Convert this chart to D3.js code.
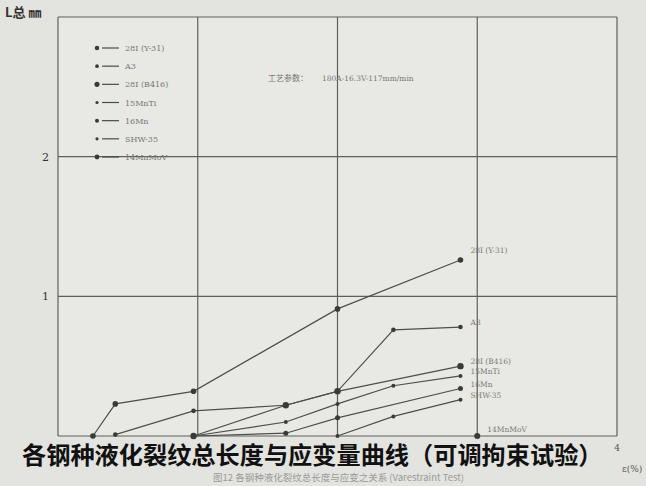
<!DOCTYPE html>
<html>
<head>
<meta charset="utf-8">
<script src="https://cdn.jsdelivr.net/npm/d3@7.9.0/dist/d3.min.js"></script>
<style>
  body { margin: 0; background: #e3e3df; }
  svg { display: block; }
</style>
</head>
<body>
<svg id="chart" width="646" height="486"></svg>
<script>
// strain (%) and total crack length (mm)
const seriesNames = ['28Ⅰ (Y-31)', 'A3', '28Ⅰ (B416)', '15MnTi', '16Mn', 'SHW-35', '14MnMoV'];
const endLabels = ['28Ⅰ (Y-31)', 'A3', '28Ⅰ (B416)', '15MnTi', '16Mn', 'SHW-35', '14MnMoV'];
const strainY31 = [0.25, 0.41, 0.97, 2.0, 2.88];
const lenY31 = [0, 0.23, 0.32, 0.91, 1.26];
const strainA3 = [0.41, 0.97, 1.63, 2.0, 2.4, 2.88];
const lenA3 = [0.01, 0.18, 0.22, 0.32, 0.76, 0.78];
const strainB416 = [0.97, 1.63, 2.0, 2.88];
const lenB416 = [0, 0.22, 0.32, 0.5];
const strainMnTi = [0.97, 1.63, 2.0, 2.4, 2.88];
const lenMnTi = [0, 0.1, 0.23, 0.36, 0.43];
const strain16Mn = [0.97, 1.63, 2.0, 2.88];
const len16Mn = [0, 0.02, 0.13, 0.34];
const strainSHW = [2.0, 2.4, 2.88];
const lenSHW = [0, 0.14, 0.26];
const strainMoV = [3.0];
const lenMoV = [0];
const xTicks = [0, 1, 2, 3, 4];
const yTicks = [0, 1, 2, 3];

const strains = [strainY31, strainA3, strainB416, strainMnTi, strain16Mn, strainSHW, strainMoV];
const lengths = [lenY31, lenA3, lenB416, lenMnTi, len16Mn, lenSHW, lenMoV];
const markerSize = [2.8, 2.3, 3.2, 2, 2.5, 2, 3];

const svg = d3.select('#chart');
const x = d3.scaleLinear().domain([0, 4]).range([58, 617]);
const y = d3.scaleLinear().domain([0, 3]).range([436, 17]);

// paper
svg.append('rect').attr('width', 646).attr('height', 486).attr('fill', '#e3e3df');
svg.append('rect').attr('x', x(0)).attr('y', y(3))
  .attr('width', x(4) - x(0)).attr('height', y(0) - y(3)).attr('fill', '#e8e8e4');

// grid
svg.append('g').selectAll('line').data(xTicks).join('line')
  .attr('x1', d => x(d)).attr('x2', d => x(d))
  .attr('y1', y(3)).attr('y2', y(0))
  .attr('stroke', '#5e5e5c').attr('stroke-width', 1.2);
svg.append('g').selectAll('line').data(yTicks).join('line')
  .attr('x1', x(0)).attr('x2', x(4))
  .attr('y1', d => y(d)).attr('y2', d => y(d))
  .attr('stroke', '#5e5e5c').attr('stroke-width', 1.2);

// tick labels
svg.append('g').selectAll('text').data([1, 2]).join('text')
  .attr('x', x(0) - 9).attr('y', d => y(d) + 4)
  .attr('text-anchor', 'end').attr('font-family', 'DejaVu Serif').attr('font-size', 11)
  .attr('fill', '#333').text(d => d);
svg.append('text').attr('x', x(4)).attr('y', 451).attr('text-anchor', 'middle')
  .attr('font-family', 'DejaVu Serif').attr('font-size', 9).attr('fill', '#555').text('4');
svg.append('text').attr('x', 622).attr('y', 472)
  .attr('font-family', 'DejaVu Serif').attr('font-size', 9).attr('fill', '#555').text('ε(%)');
svg.append('text').attr('x', 5).attr('y', 17)
  .attr('font-family', 'Noto Sans CJK SC').attr('font-size', 13).attr('font-weight', 'bold')
  .attr('fill', '#333').text('L总 ㎜');

// series
const line = d3.line().x(d => x(d[0])).y(d => y(d[1]));
strains.forEach((s, i) => {
  const pts = s.map((v, j) => [v, lengths[i][j]]);
  svg.append('path').attr('d', line(pts)).attr('fill', 'none')
    .attr('stroke', '#4e4e4c').attr('stroke-width', 1.2);
  svg.append('g').selectAll('circle').data(pts).join('circle')
    .attr('cx', d => x(d[0])).attr('cy', d => y(d[1])).attr('r', markerSize[i])
    .attr('fill', '#3a3a38');
  const last = pts[pts.length - 1];
  svg.append('text').attr('x', x(last[0]) + 10).attr('y', y(last[1]) - (i === 0 ? 7 : i === 6 ? 4 : 2))
    .attr('font-family', 'DejaVu Serif').attr('font-size', 7.5).attr('fill', '#7a7a78')
    .text(endLabels[i]);
});

// legend
const legend = svg.append('g');
const rowY = d3.scaleLinear().domain([0, 6]).range([48, 157]);
seriesNames.forEach((name, i) => {
  const ly = rowY(i);
  legend.append('circle').attr('cx', 97).attr('cy', ly).attr('r', markerSize[i] * 0.8).attr('fill', '#3a3a38');
  legend.append('line').attr('x1', 102).attr('x2', 119).attr('y1', ly).attr('y2', ly)
    .attr('stroke', '#4a4a48').attr('stroke-width', 1.2);
  legend.append('text').attr('x', 125).attr('y', ly + 3)
    .attr('font-family', 'DejaVu Serif').attr('font-size', 8).attr('fill', '#777')
    .text(name);
});

// process note
svg.append('text').attr('x', 268).attr('y', 81)
  .attr('font-family', 'Noto Sans CJK SC').attr('font-size', 8).attr('fill', '#777')
  .text('工艺参数：');
svg.append('text').attr('x', 322).attr('y', 81)
  .attr('font-family', 'DejaVu Serif').attr('font-size', 7.5).attr('fill', '#777')
  .text('180A-16.3V-117mm/min');

// captions
svg.append('text').attr('x', 22).attr('y', 464)
  .attr('font-family', 'Noto Sans CJK SC').attr('font-size', 24.2).attr('font-weight', 'bold')
  .attr('fill', '#111').text('各钢种液化裂纹总长度与应变量曲线（可调拘束试验）');
svg.append('text').attr('x', 213).attr('y', 481)
  .attr('font-family', 'Noto Sans CJK SC').attr('font-size', 9.5).attr('fill', '#9a9a98')
  .text('图12  各钢种液化裂纹总长度与应变之关系 (Varestraint  Test)');
</script>
</body>
</html>
